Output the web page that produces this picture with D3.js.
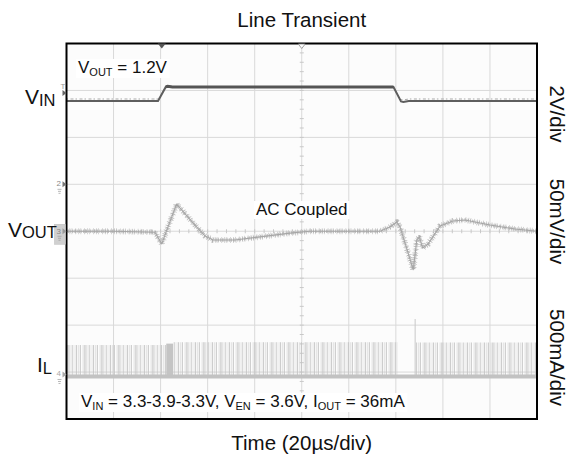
<!DOCTYPE html>
<html><head><meta charset="utf-8">
<script src="https://cdn.jsdelivr.net/npm/d3@7"></script>
<style>body{margin:0;background:#fff}svg{display:block}text{font-family:"Liberation Sans",Arial,sans-serif;fill:#111}</style>
</head><body><svg id="c" width="570" height="458"></svg>
<script>
// ---------- data ----------
const title = "Line Transient";
const xLabel = "Time (20µs/div)";
const timeDomain = [0, 200];              // µs (20 µs/div, 10 div)
const gridDivsX = 10, gridDivsY = 8;
// VIN trace (µs, V)  2 V/div
const vinT = [0, 38.9, 42.2, 43.0, 45.0, 139.0, 142.2, 143.2, 145.5, 200];
const vinV = [3.3, 3.3, 3.9, 3.93, 3.9, 3.9, 3.28, 3.26, 3.3, 3.3];
// VOUT trace AC coupled (µs, mV) 50 mV/div
const voutT = [0, 20, 37.6, 40.5, 42.3, 46.8, 48.2, 54.6, 58.9, 62.3, 71.6, 82.3, 95, 103.5, 133.3, 137.5, 140.4, 141.8, 147.4, 148.9, 150.0, 151.4, 153.7, 158.8, 164.3, 169.4, 180, 190.6, 200];
const voutMv = [0, 0, -1, -13.5, -1, 29, 25, 6.6, -5, -9.3, -9.3, -6, -2, 0, 0, 4.5, 9.8, 4.5, -41, -9.3, -6, -18, -13.6, 5.6, 11, 12, 6.6, 2.4, 0];
// IL switching-pulse envelope (µs, mA) 500 mA/div
const ilStart = [0, 42.4, 45.3, 148.6];
const ilEnd   = [42.4, 45.3, 140.9, 200];
const ilPeak  = [335, 350, 365, 362];
const ilDense = [false, true, false, false];
const ilSpikeT = [148.2], ilSpikeMa = [612];
// channel labels
const leftLabels = [[["V",""],["IN","sub"]], [["V",""],["OUT","sub"]], [["I",""],["L","sub"]]];
const rightLabels = ["2V/div","50mV/div","500mA/div"];
const noteVout = [["V",""],["OUT","sub"],[" = 1.2V",""]];
const noteAc = "AC Coupled";
const noteCond = [["V",""],["IN","sub"],[" = 3.3-3.9-3.3V, V",""],["EN","sub"],[" = 3.6V, I",""],["OUT","sub"],[" = 36mA",""]];
const markerTimes = [40.5, 100];

// ---------- layout ----------
const svg = d3.select("#c");
const P = {x0:66.5, x1:537, y0:43.5, y1:419};
const x = d3.scaleLinear().domain(timeDomain).range([P.x0, P.x1]);
const yDiv = d3.scaleLinear().domain([-gridDivsY/2, gridDivsY/2]).range([P.y1, P.y0]);
function chan(offsetDiv, perDiv){
  return d3.scaleLinear().domain([-perDiv*(4+offsetDiv), perDiv*(4-offsetDiv)]).range([P.y1, P.y0]);
}
const yVin = chan(1.125, 2), yVout = chan(0, 50), yIl = chan(-3.094, 500);

// defs
const defs = svg.append("defs");
defs.append("clipPath").attr("id","clip").append("rect")
  .attr("x",P.x0).attr("y",P.y0).attr("width",P.x1-P.x0).attr("height",P.y1-P.y0);
const pat = defs.append("pattern").attr("id","sw").attr("patternUnits","userSpaceOnUse")
  .attr("width",17).attr("height",400);
[[0.5,1],[2.6,0.5],[4.3,0.9],[6.6,0.45],[8.2,1],[10.4,0.6],[12.1,0.85],[14.5,0.4],[15.8,0.9]].forEach(([px,o])=>{
  pat.append("rect").attr("x",px).attr("y",0).attr("width",0.9).attr("height",400)
    .attr("fill","#c2c2c2").attr("opacity",o);
});

// plot bg
svg.append("rect").attr("x",P.x0).attr("y",P.y0).attr("width",P.x1-P.x0).attr("height",P.y1-P.y0).attr("fill","#fcfcfc");
// grid
const g = svg.append("g");
d3.range(1,gridDivsX).forEach(i=>{
  const t = timeDomain[0]+i*(timeDomain[1]-timeDomain[0])/gridDivsX;
  g.append("line").attr("x1",x(t)).attr("x2",x(t)).attr("y1",P.y0).attr("y2",P.y1).attr("stroke","#d9d9d9").attr("stroke-width",1);
});
d3.range(1,gridDivsY).forEach(i=>{
  const d = -gridDivsY/2+i;
  g.append("line").attr("x1",P.x0).attr("x2",P.x1).attr("y1",yDiv(d)).attr("y2",yDiv(d)).attr("stroke","#d9d9d9").attr("stroke-width",1);
});
// minor ticks on centre lines
const xc = x((timeDomain[0]+timeDomain[1])/2), yc = yDiv(0);
d3.range(1, gridDivsY*5).forEach(i=>{
  const yy = yDiv(-4+i/5);
  g.append("line").attr("x1",xc-2).attr("x2",xc+2).attr("y1",yy).attr("y2",yy).attr("stroke","#c8c8c8");
});
d3.range(1, gridDivsX*5).forEach(i=>{
  const xx = x(i*(timeDomain[1]-timeDomain[0])/(gridDivsX*5));
  g.append("line").attr("x1",xx).attr("x2",xx).attr("y1",yc-2).attr("y2",yc+2).attr("stroke","#c8c8c8");
});

const traces = svg.append("g").attr("clip-path","url(#clip)");
// IL
const ilTop = yIl(0);
ilStart.forEach((s,i)=>{
  traces.append("rect").attr("x",x(s)).attr("width",x(ilEnd[i])-x(s))
    .attr("y",yIl(ilPeak[i])).attr("height",ilTop-yIl(ilPeak[i]))
    .attr("fill", ilDense[i] ? "#c4c4c4" : "url(#sw)");
});
ilSpikeT.forEach((t,i)=>{
  traces.append("line").attr("x1",x(t)).attr("x2",x(t)).attr("y1",ilTop).attr("y2",yIl(ilSpikeMa[i])).attr("stroke","#c8c8c8").attr("stroke-width",1);
});
traces.append("line").attr("x1",P.x0).attr("x2",P.x1).attr("y1",ilTop).attr("y2",ilTop).attr("stroke","#c2c2c2").attr("stroke-width",4);

// VOUT
const voutData = voutT.map((t,i)=>[t,voutMv[i]]);
const lv = d3.line().x(d=>x(d[0])).y(d=>yVout(d[1]));
traces.append("path").attr("d",lv(voutData)).attr("fill","none").attr("stroke","#c2c2c2").attr("stroke-width",6).attr("stroke-dasharray","0.7,2.3,0.7,1.4,0.7,3.1").attr("stroke-linejoin","round");
traces.append("path").attr("d",lv(voutData)).attr("fill","none").attr("stroke","#adadad").attr("stroke-width",3.6).attr("stroke-dasharray","0.7,1.1,0.7,0.8,0.7,1.5").attr("stroke-linejoin","round");
traces.append("path").attr("d",lv(voutData)).attr("fill","none").attr("stroke","#a6a6a6").attr("stroke-width",1.1).attr("stroke-linejoin","round");

// VIN
const vinData = vinT.map((t,i)=>[t,vinV[i]]);
const li = d3.line().x(d=>x(d[0])).y(d=>yVin(d[1]));
traces.append("path").attr("d",li(vinData)).attr("fill","none").attr("stroke","#5e5e5e").attr("stroke-width",2);
traces.append("path").attr("d",li(vinData.filter(d=>d[1]>3.6))).attr("fill","none").attr("stroke","#555").attr("stroke-width",3);
traces.append("path").attr("d",li.defined(d=>d[1]<3.6)(vinData)).attr("fill","none").attr("stroke","#aaa").attr("stroke-width",1).attr("stroke-dasharray","1.5,2.5,3,2").attr("transform","translate(0,-2)");

// frame
svg.append("rect").attr("x",P.x0).attr("y",P.y0).attr("width",P.x1-P.x0).attr("height",P.y1-P.y0)
  .attr("fill","none").attr("stroke","#000").attr("stroke-width",2);

// top markers
svg.append("path").attr("d",`M${x(markerTimes[0])-4},${P.y0}L${x(markerTimes[0])+4},${P.y0}L${x(markerTimes[0])},${P.y0+5}Z`).attr("fill","#555");
svg.append("path").attr("d",`M${x(markerTimes[1])-3.5},${P.y0+0.5}L${x(markerTimes[1])+3.5},${P.y0+0.5}L${x(markerTimes[1])},${P.y0+5}Z`).attr("fill","#fff").attr("stroke","#888").attr("stroke-width",0.8);

// left channel markers
function arrow(yy, col){
  svg.append("path").attr("d",`M${P.x0-4},${yy-3}L${P.x0},${yy}L${P.x0-4},${yy+3}Z`).attr("fill",col);
}
arrow(yVin(3.3)-8, "#666");
svg.append("text").attr("x",P.x0-6).attr("y",yVin(3.3)-12).attr("font-size",8).style("fill","#999").text("T");
arrow(yDiv(1), "#777");
svg.append("text").attr("x",P.x0-10).attr("y",yDiv(1)+2).attr("font-size",8).style("fill","#888").text("2");
svg.append("rect").attr("x",P.x0-12).attr("y",yc-7).attr("width",11).attr("height",20).attr("fill","#d0d0d0").attr("stroke","#bbb").attr("stroke-width",0.5);
arrow(yc, "#999");
svg.append("text").attr("x",P.x0-10).attr("y",yc+3).attr("font-size",8).style("fill","#888").text("3");
arrow(ilTop-2, "#aaa");
svg.append("text").attr("x",P.x0-10).attr("y",ilTop).attr("font-size",8).style("fill","#aaa").text("4");
[[yDiv(1)],[yc],[ilTop-2]].forEach(([yy])=>{
  [[0,4],[1,3],[2,2]].forEach(([k,w])=>{
    svg.append("line").attr("x1",P.x0-7-w/2).attr("x2",P.x0-7+w/2).attr("y1",yy+5+k*2).attr("y2",yy+5+k*2).attr("stroke","#999").attr("stroke-width",0.7);
  });
});

// text helpers
function richText(parent, xx, yy, parts, size, subSize, subDy, anchor){
  const t = parent.append("text").attr("x",xx).attr("y",yy).attr("font-size",size).attr("text-anchor",anchor||"start");
  let shifted = false;
  parts.forEach(([s,kind])=>{
    const ts = t.append("tspan").text(s);
    if(kind==="sub"){ ts.attr("font-size",subSize).attr("dy",subDy); shifted=true; }
    else if(shifted){ ts.attr("dy",-subDy); shifted=false; }
  });
  return t;
}
// inside notes
const nb = svg.append("g");
let t1 = richText(nb, 78, 73, noteVout, 17, 11, 3);
let t2 = nb.append("text").attr("x",x(100)).attr("y",215).attr("font-size",17).attr("text-anchor","middle").text(noteAc);
let t3 = richText(nb, 81, 407, noteCond, 17, 11, 3);
[t1,t2,t3].forEach(t=>{
  const b = t.node().getBBox();
  nb.insert("rect", () => t.node()).attr("x",b.x-2).attr("y",b.y+1).attr("width",b.width+4).attr("height",b.height-1).attr("fill","#fff");
});

// title / axis labels
svg.append("text").attr("x",x(100)).attr("y",27).attr("text-anchor","middle").attr("font-size",20.5).text(title);
svg.append("text").attr("x",x(100)).attr("y",450).attr("text-anchor","middle").attr("font-size",20.5).text(xLabel);
// left channel names
richText(svg, 25, 104, leftLabels[0], 21, 16.5, 1.5);
richText(svg, 8, 236.5, leftLabels[1], 21, 16.5, 1);
richText(svg, 37, 372, leftLabels[2], 21, 16.5, 2);
// right scale labels
const rY = [114, 221.5, 357.5];
rightLabels.forEach((s,i)=>{
  svg.append("text").attr("transform",`translate(550,${rY[i]}) rotate(90)`).attr("text-anchor","middle").attr("font-size",20.5).text(s);
});
</script></body></html>
